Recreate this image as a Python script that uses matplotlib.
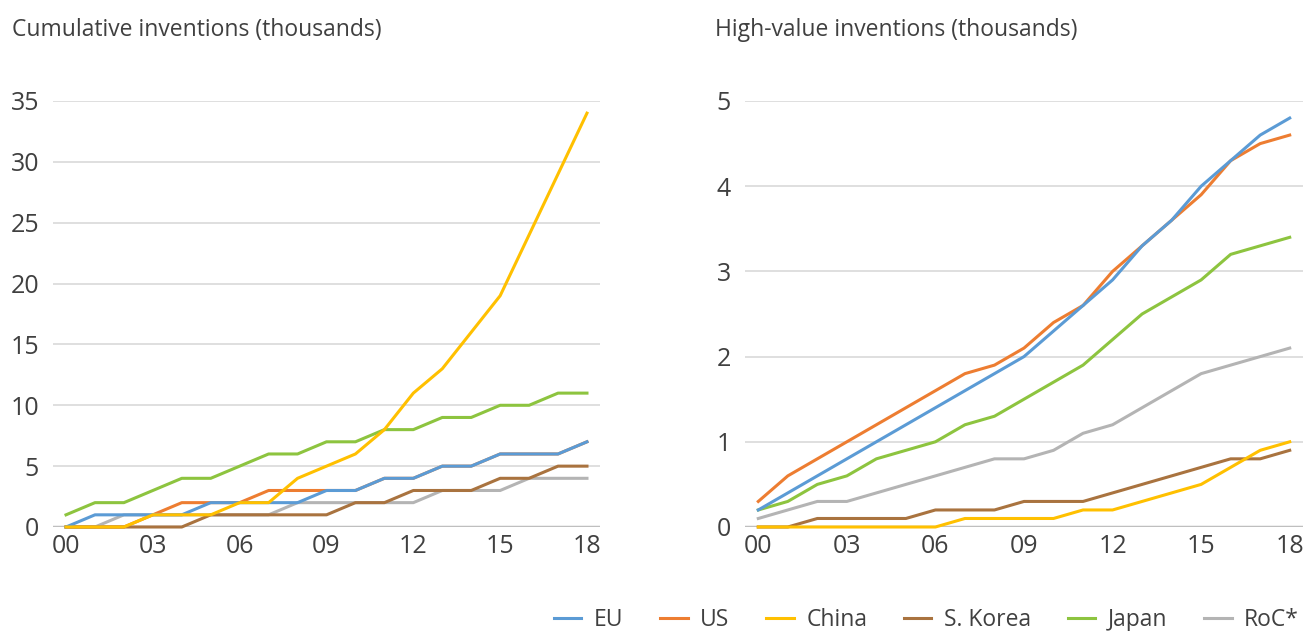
import matplotlib.pyplot as plt
import numpy as np

plt.rcParams['font.family'] = ['Open Sans', 'DejaVu Sans']

years = ['00', '01', '02', '03', '04', '05', '06', '07', '08', '09',
         '10', '11', '12', '13', '14', '15', '16', '17', '18']
series = ['EU', 'US', 'China', 'S. Korea', 'Japan', 'RoC*']
colors = ['#5B9BD5', '#ED7D31', '#FFC000', '#A9733F', '#8DC43F', '#B4B4B4']

# cumulative inventions (thousands)
cum_eu = [0, 1, 1, 1, 1, 2, 2, 2, 2, 3, 3, 4, 4, 5, 5, 6, 6, 6, 7]
cum_us = [0, 0, 0, 1, 2, 2, 2, 3, 3, 3, 3, 4, 4, 5, 5, 6, 6, 6, 7]
cum_china = [0, 0, 0, 1, 1, 1, 2, 2, 4, 5, 6, 8, 11, 13, 16, 19, 24, 29, 34]
cum_korea = [0, 0, 0, 0, 0, 1, 1, 1, 1, 1, 2, 2, 3, 3, 3, 4, 4, 5, 5]
cum_japan = [1, 2, 2, 3, 4, 4, 5, 6, 6, 7, 7, 8, 8, 9, 9, 10, 10, 11, 11]
cum_roc = [0, 0, 1, 1, 1, 1, 1, 1, 2, 2, 2, 2, 2, 3, 3, 3, 4, 4, 4]

# high-value inventions (thousands)
hv_eu = [0.2, 0.4, 0.6, 0.8, 1.0, 1.2, 1.4, 1.6, 1.8, 2.0, 2.3, 2.6, 2.9, 3.3, 3.6, 4.0, 4.3, 4.6, 4.8]
hv_us = [0.3, 0.6, 0.8, 1.0, 1.2, 1.4, 1.6, 1.8, 1.9, 2.1, 2.4, 2.6, 3.0, 3.3, 3.6, 3.9, 4.3, 4.5, 4.6]
hv_china = [0, 0, 0, 0, 0, 0, 0, 0.1, 0.1, 0.1, 0.1, 0.2, 0.2, 0.3, 0.4, 0.5, 0.7, 0.9, 1.0]
hv_korea = [0, 0, 0.1, 0.1, 0.1, 0.1, 0.2, 0.2, 0.2, 0.3, 0.3, 0.3, 0.4, 0.5, 0.6, 0.7, 0.8, 0.8, 0.9]
hv_japan = [0.2, 0.3, 0.5, 0.6, 0.8, 0.9, 1.0, 1.2, 1.3, 1.5, 1.7, 1.9, 2.2, 2.5, 2.7, 2.9, 3.2, 3.3, 3.4]
hv_roc = [0.1, 0.2, 0.3, 0.3, 0.4, 0.5, 0.6, 0.7, 0.8, 0.8, 0.9, 1.1, 1.2, 1.4, 1.6, 1.8, 1.9, 2.0, 2.1]

cum_data = [cum_eu, cum_us, cum_china, cum_korea, cum_japan, cum_roc]
hv_data = [hv_eu, hv_us, hv_china, hv_korea, hv_japan, hv_roc]
# drawing order: EU sits above US, China above the rest
zorders = [6, 3, 7, 4, 5, 3.5]

fig = plt.figure(figsize=(13.03, 6.31), dpi=100)
ax1 = fig.add_axes([53/1303, 1-527/631, 547/1303, 426/631])
ax2 = fig.add_axes([745/1303, 1-527/631, 558/1303, 426/631])

x = np.arange(len(years))


def style(ax, ymax, step):
    ax.set_xlim(-0.45, 18.45)
    ax.set_ylim(0, ymax)
    ax.set_yticks(np.arange(0, ymax + step / 2, step))
    ax.set_xticks(x[::3])
    ax.set_xticklabels(years[::3])
    for s in ax.spines.values():
        s.set_visible(False)
    ax.grid(axis='y', color='#D9D9D9', lw=1.2)
    ax.set_axisbelow(True)
    ax.axhline(0, color='#BFBFBF', lw=2.5, zorder=1)
    ax.tick_params(length=0, labelsize=18, labelcolor='#404040', pad=5)
    ax.tick_params(axis='y', pad=10)


lines = []
for vals, c, name, z in zip(cum_data, colors, series, zorders):
    ax1.plot(x, vals, color=c, lw=2.2, label=name, clip_on=False, zorder=z)
for vals, c, name, z in zip(hv_data, colors, series, zorders):
    l, = ax2.plot(x, vals, color=c, lw=2.2, label=name, clip_on=False, zorder=z)
    lines.append(l)

style(ax1, 35, 5)
style(ax2, 5, 1)

fig.text(12/1303, 1-30/631, 'Cumulative inventions (thousands)', fontsize=16.5,
         color='#404040', va='center')
fig.text(715/1303, 1-30/631, 'High-value inventions (thousands)', fontsize=16.5,
         color='#404040', va='center')

fig.legend(lines, series, loc='center right', bbox_to_anchor=(0.997, 1-620/631),
           ncol=6, frameon=False, fontsize=16.5, handlelength=1.2,
           columnspacing=1.6, handletextpad=0.55, labelcolor='#404040',
           borderpad=0, borderaxespad=0)

fig.savefig('out.png', dpi=100)
